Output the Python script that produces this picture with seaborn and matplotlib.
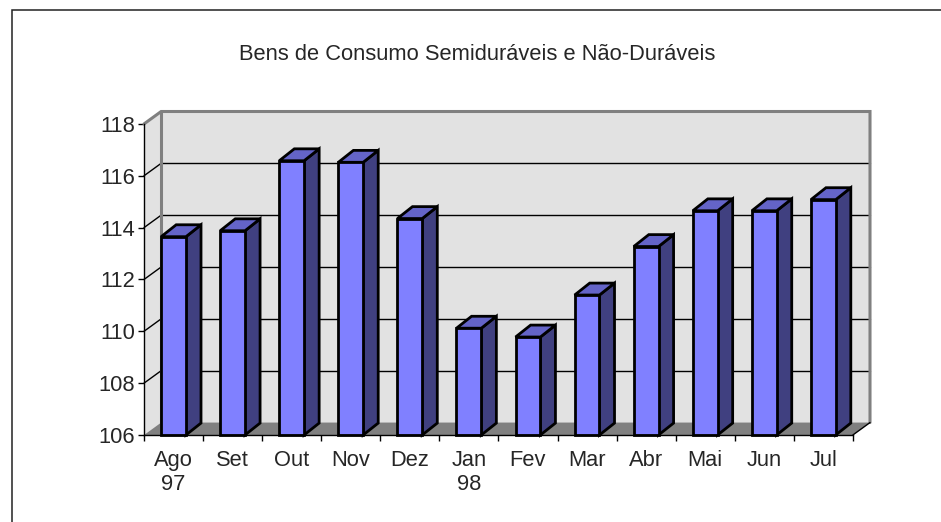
import numpy as np
import pandas as pd
import seaborn as sns
import matplotlib.pyplot as plt
from matplotlib.patches import Polygon, Rectangle

# ---------- data ----------
months = ["Ago\n97", "Set", "Out", "Nov", "Dez", "Jan\n98", "Fev", "Mar", "Abr", "Mai", "Jun", "Jul"]
index_values = [113.65, 113.88, 116.58, 116.52, 114.35, 110.12, 109.78, 111.40, 113.27, 114.65, 114.65, 115.08]
y_ticks = [106, 108, 110, 112, 114, 116, 118]
title = "Bens de Consumo Semiduráveis e Não-Duráveis"

# ---------- style ----------
sns.set_style("white")
plt.rcParams["font.family"] = ["Liberation Sans", "DejaVu Sans"]

y_min, y_max = 106, 118
n = len(months)
# depth of walls / bars, in data units
wall_dx, wall_dy = 0.29, 0.48
bar_dx, bar_dy = 0.255, 0.46
bar_width = 0.42

front_col = "#8080FF"
side_col = "#404080"
top_col = "#6464C8"
wall_col = "#E2E2E2"
floor_col = "#808080"
edge_gray = "#808080"
fs = 15.75

fig = plt.figure(figsize=(9.41, 5.22), dpi=100)
ax = fig.add_axes([144 / 941, 87 / 522, 726 / 941, 323.5 / 522])

df = pd.DataFrame({"month": months, "value": index_values})
sns.barplot(data=df, x="month", y="value", color=front_col, saturation=1,
            width=bar_width, edgecolor="black", linewidth=2.0, ax=ax, zorder=3)

ax.set_xlim(-0.5, n - 0.5 + wall_dx)
ax.set_ylim(y_min, y_max + wall_dy)

# walls and floor
x_l, x_r = -0.5, n - 0.5
left_wall = Polygon([(x_l, y_min), (x_l, y_max), (x_l + wall_dx, y_max + wall_dy),
                     (x_l + wall_dx, y_min + wall_dy)], closed=True,
                    facecolor=wall_col, edgecolor="none", zorder=0.5, clip_on=False)
back_wall = Rectangle((x_l + wall_dx, y_min + wall_dy), x_r - x_l, y_max - y_min,
                      facecolor=wall_col, edgecolor="none", zorder=0.5, clip_on=False)
floor = Polygon([(x_l, y_min), (x_r, y_min), (x_r + wall_dx, y_min + wall_dy),
                 (x_l + wall_dx, y_min + wall_dy)], closed=True,
                facecolor=floor_col, edgecolor="none", zorder=0.6, clip_on=False)
for patch in (left_wall, back_wall, floor):
    ax.add_patch(patch)

# gridlines on the back wall and the left wall
for v in y_ticks[1:-1]:
    ax.plot([x_l + wall_dx, x_r + wall_dx], [v + wall_dy, v + wall_dy],
            color="black", lw=1.0, zorder=0.8, clip_on=False)
    ax.plot([x_l, x_l + wall_dx], [v, v + wall_dy],
            color="black", lw=1.0, zorder=0.8, clip_on=False)

# wall edges
ax.plot([x_l, x_l + wall_dx, x_r + wall_dx, x_r + wall_dx],
        [y_max, y_max + wall_dy, y_max + wall_dy, y_min + wall_dy],
        color=edge_gray, lw=2.2, zorder=0.9, clip_on=False, solid_joinstyle="miter")
ax.plot([x_l + wall_dx, x_l + wall_dx], [y_min + wall_dy, y_max + wall_dy],
        color=edge_gray, lw=2.2, zorder=0.9, clip_on=False)
ax.plot([x_r, x_r + wall_dx], [y_min, y_min + wall_dy],
        color="black", lw=1.0, zorder=0.9, clip_on=False)

# 3d faces of the bars
for p, v in zip(ax.patches[: n], index_values):
    if not isinstance(p, Rectangle) or p.get_width() > 1:
        continue
    x0, w = p.get_x(), p.get_width()
    p.set_y(y_min)
    p.set_height(v - y_min)
    p.set_clip_on(False)
    side = Polygon([(x0 + w, y_min), (x0 + w, v), (x0 + w + bar_dx, v + bar_dy),
                    (x0 + w + bar_dx, y_min + bar_dy)], closed=True,
                   facecolor=side_col, edgecolor="black", lw=2.0, zorder=2.9,
                   clip_on=False, joinstyle="miter")
    top = Polygon([(x0, v), (x0 + w, v), (x0 + w + bar_dx, v + bar_dy),
                   (x0 + bar_dx, v + bar_dy)], closed=True,
                  facecolor=top_col, edgecolor="black", lw=2.0, zorder=2.9,
                  clip_on=False, joinstyle="miter")
    ax.add_patch(side)
    ax.add_patch(top)

# axes
for s in ["top", "right"]:
    ax.spines[s].set_visible(False)
ax.spines["left"].set_position(("data", x_l))
ax.spines["left"].set_bounds(y_min, y_max)
ax.spines["bottom"].set_bounds(x_l, x_r)
for s in ["left", "bottom"]:
    ax.spines[s].set_color("black")
    ax.spines[s].set_linewidth(1.0)
    ax.spines[s].set_zorder(4)

ax.set_yticks(y_ticks)
ax.set_yticklabels([str(t) for t in y_ticks])
ax.tick_params(axis="y", which="major", left=True, length=4.3, width=1.0,
               pad=2, labelsize=fs, color="black")
ax.set_xticks(range(n))
ax.set_xticklabels(months, linespacing=1.2)
ax.set_xticks(np.arange(n + 1) - 0.5, minor=True)
ax.tick_params(axis="x", which="major", bottom=True, length=0, pad=11, labelsize=fs)
ax.tick_params(axis="x", which="minor", bottom=True, length=4.3, width=1.0, color="black")
ax.set_xlabel("")
ax.set_ylabel("")
ax.grid(False)
ax.patch.set_visible(False)

fig.text(477.5 / 941, 1 - 54 / 522, title, ha="center", va="center", fontsize=fs)

# chart frame (cut at right and bottom)
fig.patches.append(Rectangle((12 / 941, -0.1), 1.2, (522 - 10) / 522 + 0.1,
                             transform=fig.transFigure, fill=False,
                             edgecolor="#222222", lw=1.1, zorder=10))

fig.savefig("out.png", dpi=100)
